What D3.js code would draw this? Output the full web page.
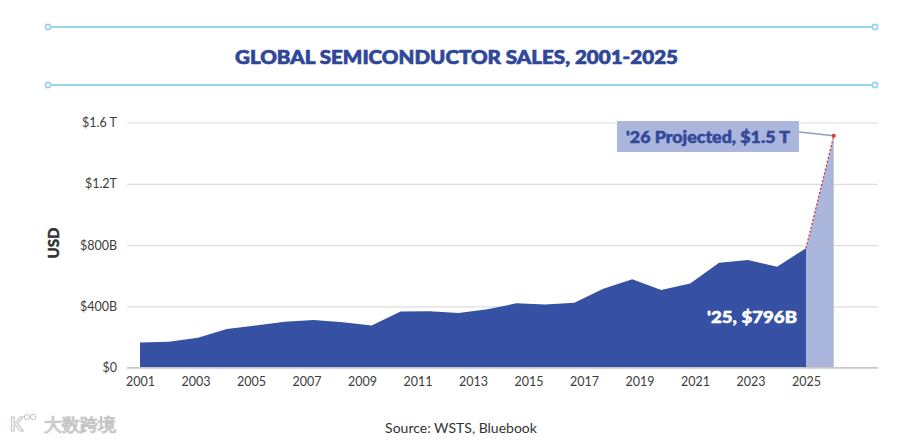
<!DOCTYPE html>
<html>
<head>
<meta charset="utf-8">
<script src="https://cdnjs.cloudflare.com/ajax/libs/d3/7.8.5/d3.min.js"></script>
<style>
  html, body { margin: 0; padding: 0; background: #fff; }
  svg { display: block; }
  text { font-family: Lato, "Open Sans", sans-serif; }
</style>
</head>
<body>
<div id="chart"></div>
<script>
(function () {
// values in $B, as drawn (24 points spread from the 2001 tick to the 2025 tick)
var sales = [165, 170, 196, 253, 276, 300, 311, 296, 276, 366, 368, 357,
             381, 420, 413, 424, 515, 577, 507, 550, 685, 703, 659, 780];
var projYears = [2025, 2026];
var projValues = [780, 1513];
var xTicks = [2001, 2003, 2005, 2007, 2009, 2011, 2013, 2015, 2017, 2019, 2021, 2023, 2025];
var yTicks = [0, 400, 800, 1200, 1600];
var yTickLabels = ["$0", "$400B", "$800B", "$1.2T", "$1.6 T"];

var w = 900, h = 441;
var dark = "#3650a3", light = "#aab6dc", navy = "#2f4799", sky = "#97d3ea";

var svg = d3.select("#chart").append("svg").attr("width", w).attr("height", h);

var x = d3.scaleLinear().domain([2001, 2025]).range([140, 806]);
var y = d3.scaleLinear().domain([0, 1600]).range([367.7, 122.5]);
var px = d3.scalePoint().domain(d3.range(sales.length)).range([x(2001), x(2025)]);

// decorative rules with end circles
[27, 85].forEach(function (yy) {
  svg.append("line").attr("x1", 48).attr("x2", 875).attr("y1", yy).attr("y2", yy)
    .attr("stroke", sky).attr("stroke-width", 2);
  [48, 875].forEach(function (xx) {
    svg.append("circle").attr("cx", xx).attr("cy", yy).attr("r", 2.6)
      .attr("fill", "#fff").attr("stroke", sky).attr("stroke-width", 1.6);
  });
});

svg.append("text")
  .attr("x", 456.5).attr("y", 64)
  .attr("text-anchor", "middle")
  .attr("fill", navy).attr("stroke", navy).attr("stroke-width", 0.7)
  .attr("font-size", "19px").attr("font-weight", 900)
  .attr("textLength", 443).attr("lengthAdjust", "spacingAndGlyphs")
  .text("GLOBAL SEMICONDUCTOR SALES, 2001-2025");

// y axis + grid
var yAxis = svg.append("g")
  .attr("transform", "translate(127,0)")
  .call(d3.axisLeft(y).tickValues(yTicks).tickSize(-751).tickPadding(10)
    .tickFormat(function (d, i) { return yTickLabels[i]; }));
yAxis.select(".domain").remove();
yAxis.selectAll(".tick line").attr("stroke", "#dedede").attr("stroke-width", 1.2);
yAxis.selectAll(".tick text").attr("fill", "#3c3c3c").attr("font-size", "12.5px")
  .attr("font-family", "Lato, sans-serif");

svg.append("text")
  .attr("transform", "translate(59,243) rotate(-90)")
  .attr("text-anchor", "middle")
  .attr("fill", "#333").attr("stroke", "#333").attr("stroke-width", 0.4)
  .attr("font-size", "15px").attr("font-weight", 900)
  .text("USD");

// projected area
var projArea = d3.area()
  .x(function (d, i) { return x(projYears[i]); })
  .y0(y(0))
  .y1(function (d) { return y(d); });
svg.append("path").datum(projValues).attr("d", projArea).attr("fill", light);

// actual area
var area = d3.area()
  .x(function (d, i) { return px(i); })
  .y0(y(0))
  .y1(function (d) { return y(d); });
svg.append("path").datum(sales).attr("d", area).attr("fill", dark);

// baseline
svg.append("line").attr("x1", 127).attr("x2", 878).attr("y1", y(0)).attr("y2", y(0))
  .attr("stroke", "#c8c8c8").attr("stroke-width", 1.6);

// x axis labels
var xAxis = svg.append("g")
  .attr("transform", "translate(0," + y(0) + ")")
  .call(d3.axisBottom(x).tickValues(xTicks).tickSize(0).tickPadding(9)
    .tickFormat(d3.format("d")));
xAxis.select(".domain").remove();
xAxis.selectAll(".tick text").attr("fill", "#3c3c3c").attr("font-size", "12.5px")
  .attr("font-family", "Lato, sans-serif");

// dotted projection line
svg.append("line")
  .attr("x1", x(projYears[0])).attr("y1", y(projValues[0]))
  .attr("x2", x(projYears[1])).attr("y2", y(projValues[1]))
  .attr("stroke", "#d9352f").attr("stroke-width", 1.3).attr("stroke-dasharray", "2,2");

// callout for projection
svg.append("line")
  .attr("x1", 799).attr("y1", 132)
  .attr("x2", x(projYears[1])).attr("y2", y(projValues[1]))
  .attr("stroke", "#8e9dcb").attr("stroke-width", 1.5);
svg.append("circle").attr("cx", x(projYears[1])).attr("cy", y(projValues[1])).attr("r", 2)
  .attr("fill", "#d9352f");
svg.append("rect").attr("x", 617).attr("y", 121).attr("width", 182).attr("height", 31)
  .attr("fill", light);
svg.append("text")
  .attr("x", 708).attr("y", 142.5).attr("text-anchor", "middle")
  .attr("fill", "#33489a").attr("stroke", "#33489a").attr("stroke-width", 0.5)
  .attr("font-size", "16px").attr("font-weight", 900)
  .attr("textLength", 164).attr("lengthAdjust", "spacingAndGlyphs")
  .text("'26 Projected, $1.5 T");

svg.append("text")
  .attr("x", 797).attr("y", 323).attr("text-anchor", "end")
  .attr("fill", "#fff").attr("stroke", "#fff").attr("stroke-width", 0.5)
  .attr("font-size", "16px").attr("font-weight", 900)
  .attr("textLength", 90).attr("lengthAdjust", "spacingAndGlyphs")
  .text("'25, $796B");

// source
svg.append("text")
  .attr("x", 461).attr("y", 433).attr("text-anchor", "middle")
  .attr("fill", "#333").attr("font-size", "14px")
  .text("Source: WSTS, Bluebook");

// watermark
var wm = svg.append("g").attr("fill", "#fff").attr("stroke", "#c4c4c4").attr("stroke-width", 1);
wm.append("text").attr("x", 10).attr("y", 431).attr("font-size", "19px").attr("font-weight", 700)
  .text("K");
wm.append("circle").attr("cx", 27).attr("cy", 417).attr("r", 2.6);
wm.append("circle").attr("cx", 33).attr("cy", 417).attr("r", 2.6);
wm.append("text").attr("x", 44).attr("y", 431)
  .attr("font-family", "'Noto Sans CJK SC', sans-serif")
  .attr("font-size", "18px").attr("font-weight", 400)
  .text("大数跨境");
})();
</script>
</body>
</html>
